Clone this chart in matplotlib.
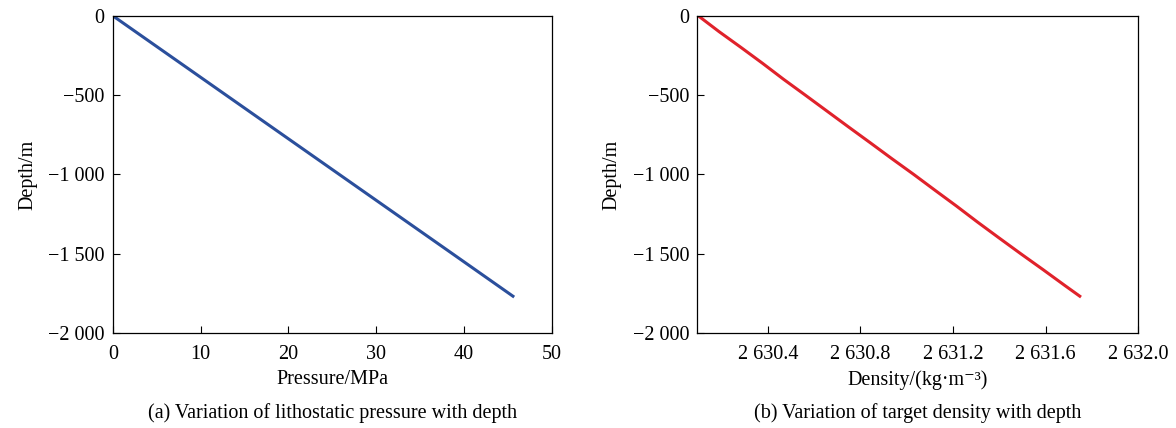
import matplotlib
matplotlib.use("Agg")
import matplotlib.pyplot as plt
from matplotlib.ticker import FuncFormatter, FixedLocator

plt.rcParams['font.family'] = ['Liberation Serif', 'DejaVu Serif']
plt.rcParams['axes.unicode_minus'] = True

# Panel (a): lithostatic pressure vs depth
depth_a = [0, -250, -500, -750, -1000, -1250, -1500, -1768]
pressure = [0, 6.45, 12.9, 19.35, 25.8, 32.25, 38.7, 45.6]

# Panel (b): target density vs depth
depth_b = [0, -100, -200, -300, -400, -500, -600, -700, -800, -900, -1000,
           -1100, -1200, -1300, -1400, -1500, -1600, -1700, -1768]
density = [2630.100, 2630.190, 2630.285, 2630.378, 2630.468, 2630.562,
           2630.655, 2630.748, 2630.842, 2630.935, 2631.030, 2631.122,
           2631.215, 2631.305, 2631.398, 2631.492, 2631.588, 2631.682,
           2631.747]

yticks = [0, -500, -1000, -1500, -2000]
xticks_a = [0, 10, 20, 30, 40, 50]
xticks_b = [2630.4, 2630.8, 2631.2, 2631.6, 2632.0]

FS = 14.5


def fmt_int(v, pos=None):
    s = f"{abs(v):,.0f}".replace(",", " ")
    return ("\u2212" if v < 0 else "") + s


def fmt_dens(v, pos=None):
    return f"{v:,.1f}".replace(",", " ")


fig = plt.figure(figsize=(11.76, 4.28), dpi=100)
ax1 = fig.add_axes([0.096, 0.222, 0.373, 0.741])
ax2 = fig.add_axes([0.593, 0.222, 0.375, 0.741])

ax1.plot(pressure, depth_a, color='#2b4f9c', lw=2.2)
ax2.plot(density, depth_b, color='#e0222b', lw=2.2)

ax1.set_xlim(0, 50)
ax1.set_ylim(-2000, 0)
ax2.set_xlim(2630.096, 2632.0)
ax2.set_ylim(-2000, 0)

for ax in (ax1, ax2):
    ax.yaxis.set_major_locator(FixedLocator(yticks))
    ax.yaxis.set_major_formatter(FuncFormatter(fmt_int))
    ax.tick_params(direction='in', length=5, width=0.8, labelsize=FS,
                   top=False, right=False)
    ax.tick_params(axis='y', pad=6)
    ax.tick_params(axis='x', pad=9)
    ax.set_ylabel("Depth/m", fontsize=FS, labelpad=8)
    for sp in ax.spines.values():
        sp.set_linewidth(0.9)

ax1.xaxis.set_major_locator(FixedLocator(xticks_a))
ax1.xaxis.set_major_formatter(FuncFormatter(lambda v, p: f"{v:.0f}"))
ax2.xaxis.set_major_locator(FixedLocator(xticks_b))
ax2.xaxis.set_major_formatter(FuncFormatter(fmt_dens))

ax1.set_xlabel("Pressure/MPa", fontsize=FS, labelpad=4)
ax2.set_xlabel("Density/(kg\u00b7m\u207b\u00b3)", fontsize=FS, labelpad=4)

fig.text(0.2825, 0.035, "(a) Variation of lithostatic pressure with depth",
         ha='center', va='center', fontsize=FS)
fig.text(0.780, 0.035, "(b) Variation of target density with depth",
         ha='center', va='center', fontsize=FS)

fig.savefig("out.png", dpi=100)
